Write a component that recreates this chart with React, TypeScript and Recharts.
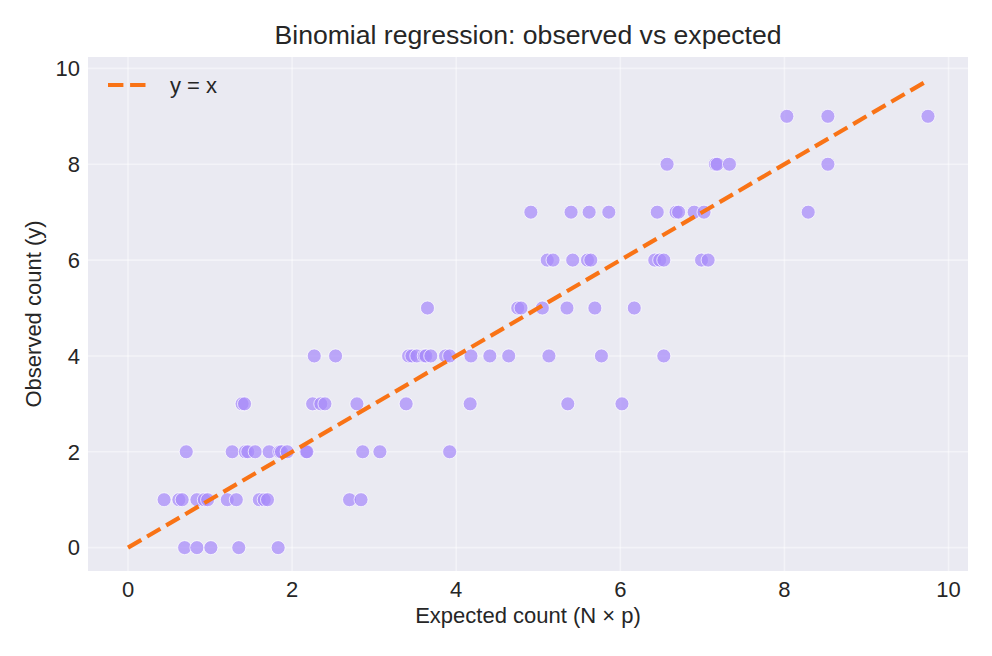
import React from "react";
import {
  ScatterChart,
  Scatter,
  XAxis,
  YAxis,
  CartesianGrid,
} from "recharts";

const expected0 = [0.69, 0.84, 1.01, 1.35, 1.83];
const expected1 = [0.44, 0.62, 0.66, 0.84, 0.93, 0.97, 1.21, 1.32, 1.6, 1.66, 1.7, 2.7, 2.84];
const expected2 = [0.71, 1.27, 1.43, 1.46, 1.55, 1.72, 1.85, 1.87, 1.94, 2.17, 2.18, 2.86, 3.07, 3.92];
const expected3 = [1.39, 1.42, 2.25, 2.35, 2.4, 2.79, 3.39, 4.17, 5.36, 6.02];
const expected4 = [2.27, 2.53, 3.42, 3.46, 3.52, 3.61, 3.63, 3.69, 3.87, 3.92, 4.18, 4.41, 4.64, 5.13, 5.77, 6.53];
const expected5 = [3.65, 4.75, 4.79, 5.05, 5.35, 5.69, 6.17];
const expected6 = [5.11, 5.18, 5.42, 5.6, 5.64, 6.42, 6.48, 6.53, 6.99, 7.07];
const expected7 = [4.91, 5.4, 5.62, 5.86, 6.45, 6.68, 6.71, 6.9, 7.02, 8.29];
const expected8 = [6.57, 7.16, 7.18, 7.33, 8.53];
const expected9 = [8.03, 8.53, 9.75];

const rows: number[][] = [
  expected0, expected1, expected2, expected3, expected4,
  expected5, expected6, expected7, expected8, expected9,
];

const xTicks = [0, 2, 4, 6, 8, 10];
const yTicks = [0, 2, 4, 6, 8, 10];
const identityEnds = [0, 9.75];

const points = rows.flatMap((xs, y) => xs.map((x) => ({ x, y })));
const identityLine = identityEnds.map((v) => ({ x: v, y: v }));

const TEXT = "#262626";
const FONT = "'Liberation Sans', Arial, sans-serif";
const LINE_COLOR = "#f97316";

const Dot = (props: any) => {
  const { cx, cy } = props;
  if (cx == null || cy == null) return null;
  return (
    <circle
      cx={cx}
      cy={cy}
      r={7}
      fill="#a78bfa"
      fillOpacity={0.72}
      stroke="#ffffff"
      strokeOpacity={0.8}
      strokeWidth={0.9}
    />
  );
};

const NoShape = () => null;

const YLabel = () => (
  <text
    x={33}
    y={314}
    transform="rotate(-90 33 314)"
    textAnchor="middle"
    dominantBaseline="central"
    fontSize={22}
    fill={TEXT}
    fontFamily={FONT}
  >
    Observed count (y)
  </text>
);

const XLabel = () => (
  <text
    x={528}
    y={623}
    textAnchor="middle"
    fontSize={22}
    fill={TEXT}
    fontFamily={FONT}
  >
    Expected count (N × p)
  </text>
);

export default function App() {
  return (
    <div
      style={{
        position: "absolute",
        left: 0,
        top: 0,
        width: 992,
        height: 656,
        background: "#ffffff",
        fontFamily: FONT,
      }}
    >
      <div style={{ position: "absolute", left: 0, top: 0 }}>
        <ScatterChart
          width={992}
          height={656}
          margin={{ top: 57, right: 24, left: 0, bottom: 0 }}
        >
          <CartesianGrid
            fill="#EAEAF2"
            stroke="#ffffff"
            strokeOpacity={0.45}
            strokeWidth={1.6}
            horizontalValues={yTicks}
            verticalValues={xTicks}
          />
          <XAxis
            type="number"
            dataKey="x"
            domain={[-0.4875, 10.2375]}
            ticks={xTicks}
            allowDataOverflow
            axisLine={false}
            tickLine={false}
            tickSize={6}
            tickMargin={4}
            height={85}
            tick={{ fontSize: 22, fill: TEXT, fontFamily: FONT }}
            label={<XLabel />}
          />
          <YAxis
            type="number"
            dataKey="y"
            domain={[-0.4875, 10.2375]}
            ticks={yTicks}
            allowDataOverflow
            axisLine={false}
            tickLine={false}
            tickSize={6}
            tickMargin={2}
            width={88}
            tick={{ fontSize: 22, fill: TEXT, fontFamily: FONT }}
            label={<YLabel />}
          />
          <Scatter
            name="points"
            data={points}
            shape={<Dot />}
            isAnimationActive={false}
            legendType="none"
          />
          <Scatter
            name="y = x"
            data={identityLine}
            shape={<NoShape />}
            line={{
              stroke: LINE_COLOR,
              strokeWidth: 4.2,
              strokeDasharray: "15.4 6.7",
            }}
            isAnimationActive={false}
          />
        </ScatterChart>
      </div>
      <svg
        width={992}
        height={120}
        style={{ position: "absolute", left: 0, top: 0, pointerEvents: "none" }}
      >
        <text
          x={528}
          y={43.5}
          textAnchor="middle"
          fontSize={26.6}
          fill={TEXT}
          fontFamily={FONT}
        >
          Binomial regression: observed vs expected
        </text>
        <line
          x1={108}
          y1={85}
          x2={148}
          y2={85}
          stroke={LINE_COLOR}
          strokeWidth={4.2}
          strokeDasharray="15.4 6.7"
        />
        <text x={170} y={93} fontSize={22} fill={TEXT} fontFamily={FONT}>
          y = x
        </text>
      </svg>
    </div>
  );
}
